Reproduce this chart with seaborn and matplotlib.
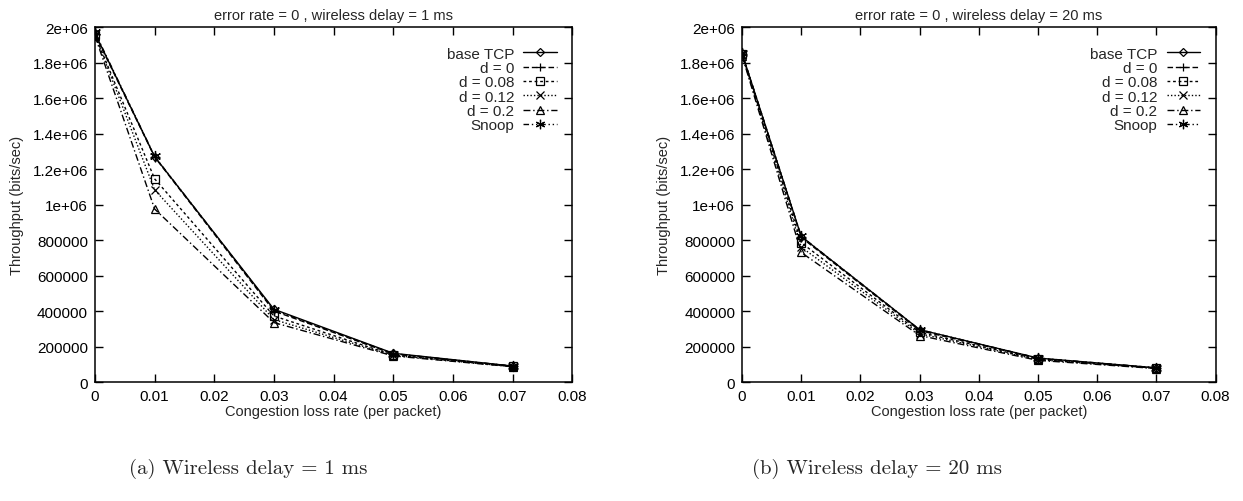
import matplotlib
matplotlib.use("Agg")
import matplotlib.pyplot as plt
import seaborn as sns
import pandas as pd
from matplotlib.ticker import FixedLocator, FuncFormatter

# Congestion loss rates (per packet)
loss_rate = [0, 0.01, 0.03, 0.05, 0.07]

series_names = ["base TCP", "d = 0", "d = 0.08", "d = 0.12", "d = 0.2", "Snoop"]

# Throughput (bits/sec), wireless delay = 1 ms
delay1_base = [1965000, 1270000, 410000, 162000, 90000]
delay1_d0 = [1960000, 1268000, 400000, 158000, 89000]
delay1_d008 = [1955000, 1145000, 372000, 152000, 88000]
delay1_d012 = [1955000, 1083000, 352000, 150000, 87000]
delay1_d02 = [1950000, 975000, 335000, 147000, 86000]
delay1_snoop = [1970000, 1272000, 405000, 160000, 90000]

# Throughput (bits/sec), wireless delay = 20 ms
delay20_base = [1852000, 820000, 295000, 135000, 80000]
delay20_d0 = [1850000, 815000, 290000, 133000, 79000]
delay20_d008 = [1847000, 785000, 280000, 128000, 78000]
delay20_d012 = [1845000, 760000, 272000, 126000, 77000]
delay20_d02 = [1840000, 730000, 262000, 122000, 76000]
delay20_snoop = [1853000, 821000, 295000, 135000, 80000]

titles = ["error rate = 0 , wireless delay = 1 ms",
          "error rate = 0 , wireless delay = 20 ms"]
captions = ["(a) Wireless delay = 1 ms", "(b) Wireless delay = 20 ms"]
caption_x = [0.1995, 0.7056]
x_ticks = [0, 0.01, 0.02, 0.03, 0.04, 0.05, 0.06, 0.07, 0.08]
y_ticks = [0, 200000, 400000, 600000, 800000, 1000000, 1200000,
           1400000, 1600000, 1800000, 2000000]

panels = [
    [delay1_base, delay1_d0, delay1_d008, delay1_d012, delay1_d02, delay1_snoop],
    [delay20_base, delay20_d0, delay20_d008, delay20_d012, delay20_d02, delay20_snoop],
]

# gnuplot-like line/point styles
styles = [
    dict(linestyle="-", marker="D", markersize=4.5, markerfacecolor="none"),
    dict(linestyle=(0, (4, 2)), marker="+", markersize=7),
    dict(linestyle=(0, (2, 2)), marker="s", markersize=6, markerfacecolor="none"),
    dict(linestyle=(0, (1, 1.5)), marker="x", markersize=6),
    dict(linestyle=(0, (5, 2, 1, 2)), marker="^", markersize=6, markerfacecolor="none"),
    dict(linestyle=(0, (4, 2, 1, 2, 1, 2)), marker=(6, 2, 0), markersize=8),
]

sns.set_theme(style="ticks")
plt.rcParams["font.family"] = ["Liberation Sans", "DejaVu Sans"]

fig = plt.figure(figsize=(12.43, 5.02), dpi=100)
axes_pos = [[0.0764, 0.237, 0.384, 0.707], [0.597, 0.237, 0.381, 0.707]]


def y_fmt(v, _):
    if v >= 1000000:
        return f"{v:.0e}" if v % 1000000 == 0 else f"{v:.1e}"
    return f"{int(v)}"


for i, (pos, values) in enumerate(zip(axes_pos, panels)):
    ax = fig.add_axes(pos)
    for name, vals, st in zip(series_names, values, styles):
        df = pd.DataFrame({"rate": loss_rate, "tput": vals})
        sns.lineplot(data=df, x="rate", y="tput", ax=ax, color="black",
                     linewidth=1.0, markeredgewidth=0.9, markeredgecolor="black",
                     label=name, **st)
    ax.set_xlim(0, 0.08)
    ax.set_ylim(0, 2000000)
    ax.xaxis.set_major_locator(FixedLocator(x_ticks))
    ax.yaxis.set_major_locator(FixedLocator(y_ticks))
    ax.xaxis.set_major_formatter(FuncFormatter(lambda v, _: "0" if v == 0 else f"{v:.2f}"))
    ax.yaxis.set_major_formatter(FuncFormatter(y_fmt))
    ax.tick_params(direction="in", length=6, width=1, top=True, right=True,
                   labelsize=11, colors="black", pad=5)
    for sp in ax.spines.values():
        sp.set_visible(True)
        sp.set_linewidth(1.1)
        sp.set_color("black")
    ax.set_title(titles[i], fontsize=10.5, pad=6)
    ax.set_xlabel("Congestion loss rate (per packet)", fontsize=10.5, labelpad=1)
    ax.set_ylabel("Throughput (bits/sec)", fontsize=10.5, labelpad=6)
    ax.legend(loc="upper right", bbox_to_anchor=(0.99, 0.975), frameon=False,
              markerfirst=False, fontsize=11, handlelength=2.2, markerscale=0.85,
              handletextpad=0.6, labelspacing=0.02, borderpad=0.2)
    fig.text(caption_x[i], 0.065, captions[i],
             family="cmr10", fontsize=15, ha="center", va="center")

fig.savefig("out.png", dpi=100)
